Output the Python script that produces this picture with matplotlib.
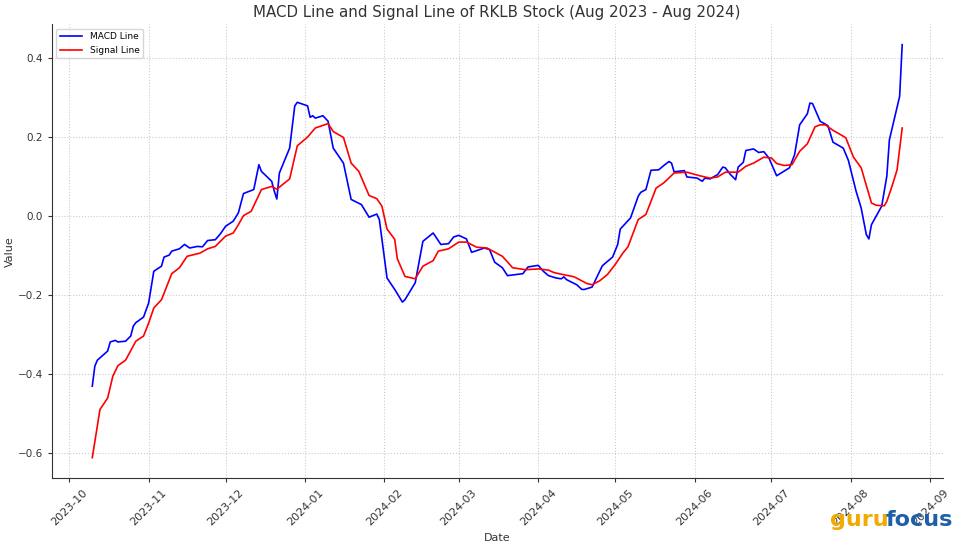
import matplotlib
matplotlib.use("Agg")
import matplotlib.pyplot as plt
import matplotlib.dates as mdates
import pandas as pd

# MACD line
macd_dates = [
    "2023-10-10", "2023-10-11", "2023-10-12", "2023-10-16", "2023-10-17", "2023-10-19",
    "2023-10-20", "2023-10-23", "2023-10-25", "2023-10-26", "2023-10-27", "2023-10-30",
    "2023-11-01", "2023-11-03", "2023-11-06", "2023-11-07", "2023-11-09", "2023-11-10",
    "2023-11-13", "2023-11-15", "2023-11-17", "2023-11-20", "2023-11-22", "2023-11-24",
    "2023-11-27", "2023-11-29", "2023-12-01", "2023-12-04", "2023-12-06", "2023-12-08",
    "2023-12-12", "2023-12-14", "2023-12-15", "2023-12-19", "2023-12-20", "2023-12-21",
    "2023-12-22", "2023-12-26", "2023-12-28", "2023-12-29", "2024-01-02", "2024-01-03",
    "2024-01-04", "2024-01-05", "2024-01-08", "2024-01-10", "2024-01-12", "2024-01-16",
    "2024-01-19", "2024-01-23", "2024-01-26", "2024-01-29", "2024-01-30", "2024-02-02",
    "2024-02-05", "2024-02-08", "2024-02-09", "2024-02-13", "2024-02-16", "2024-02-20",
    "2024-02-23", "2024-02-26", "2024-02-28", "2024-03-01", "2024-03-04", "2024-03-06",
    "2024-03-11", "2024-03-13", "2024-03-15", "2024-03-18", "2024-03-20", "2024-03-26",
    "2024-03-28", "2024-04-01", "2024-04-03", "2024-04-05", "2024-04-08", "2024-04-10",
    "2024-04-11", "2024-04-12", "2024-04-16", "2024-04-18", "2024-04-19", "2024-04-22",
    "2024-04-24", "2024-04-26", "2024-04-30", "2024-05-02", "2024-05-03", "2024-05-07",
    "2024-05-10", "2024-05-11", "2024-05-13", "2024-05-15", "2024-05-18", "2024-05-20",
    "2024-05-22", "2024-05-23", "2024-05-24", "2024-05-28", "2024-05-29", "2024-06-02",
    "2024-06-04", "2024-06-05", "2024-06-07", "2024-06-10", "2024-06-12", "2024-06-13",
    "2024-06-15", "2024-06-17", "2024-06-18", "2024-06-20", "2024-06-21", "2024-06-24",
    "2024-06-26", "2024-06-28", "2024-06-30", "2024-07-03", "2024-07-08", "2024-07-10",
    "2024-07-12", "2024-07-15", "2024-07-16", "2024-07-17", "2024-07-20", "2024-07-23",
    "2024-07-25", "2024-07-29", "2024-07-31", "2024-08-03", "2024-08-05", "2024-08-07",
    "2024-08-08", "2024-08-09", "2024-08-13", "2024-08-15", "2024-08-16", "2024-08-20",
    "2024-08-21",
]
macd_vals = [
    -0.432, -0.381, -0.366, -0.343, -0.320, -0.316,
    -0.320, -0.318, -0.305, -0.280, -0.271, -0.257,
    -0.221, -0.141, -0.128, -0.105, -0.100, -0.090,
    -0.084, -0.073, -0.082, -0.078, -0.079, -0.063,
    -0.061, -0.046, -0.027, -0.014, 0.007, 0.056,
    0.066, 0.129, 0.112, 0.087, 0.062, 0.042,
    0.108, 0.171, 0.278, 0.287, 0.278, 0.249,
    0.253, 0.247, 0.253, 0.239, 0.171, 0.133,
    0.041, 0.028, -0.004, 0.004, -0.010, -0.158,
    -0.187, -0.219, -0.213, -0.170, -0.065, -0.044,
    -0.073, -0.071, -0.054, -0.050, -0.059, -0.093,
    -0.082, -0.086, -0.118, -0.132, -0.152, -0.147,
    -0.130, -0.126, -0.141, -0.152, -0.158, -0.160,
    -0.155, -0.162, -0.175, -0.187, -0.187, -0.181,
    -0.154, -0.127, -0.105, -0.073, -0.034, -0.006,
    0.049, 0.059, 0.066, 0.115, 0.116, 0.127,
    0.137, 0.133, 0.111, 0.114, 0.098, 0.095,
    0.087, 0.095, 0.093, 0.104, 0.123, 0.121,
    0.104, 0.091, 0.123, 0.135, 0.165, 0.169,
    0.160, 0.162, 0.146, 0.101, 0.121, 0.154,
    0.230, 0.258, 0.285, 0.284, 0.239, 0.228,
    0.186, 0.171, 0.140, 0.062, 0.019, -0.048,
    -0.059, -0.023, 0.024, 0.100, 0.192, 0.302,
    0.433,
]

# signal line
signal_dates = [
    "2023-10-10", "2023-10-13", "2023-10-16", "2023-10-18", "2023-10-20", "2023-10-23",
    "2023-10-27", "2023-10-30", "2023-11-01", "2023-11-03", "2023-11-06", "2023-11-10",
    "2023-11-13", "2023-11-16", "2023-11-21", "2023-11-24", "2023-11-27", "2023-12-01",
    "2023-12-04", "2023-12-06", "2023-12-08", "2023-12-11", "2023-12-15", "2023-12-19",
    "2023-12-21", "2023-12-26", "2023-12-29", "2024-01-02", "2024-01-05", "2024-01-10",
    "2024-01-12", "2024-01-16", "2024-01-19", "2024-01-22", "2024-01-26", "2024-01-29",
    "2024-01-31", "2024-02-02", "2024-02-05", "2024-02-06", "2024-02-09", "2024-02-13",
    "2024-02-16", "2024-02-20", "2024-02-22", "2024-02-26", "2024-03-01", "2024-03-04",
    "2024-03-08", "2024-03-12", "2024-03-18", "2024-03-22", "2024-03-27", "2024-04-01",
    "2024-04-05", "2024-04-07", "2024-04-09", "2024-04-15", "2024-04-20", "2024-04-22",
    "2024-04-25", "2024-04-28", "2024-05-01", "2024-05-04", "2024-05-06", "2024-05-10",
    "2024-05-13", "2024-05-17", "2024-05-20", "2024-05-24", "2024-05-29", "2024-06-03",
    "2024-06-07", "2024-06-10", "2024-06-13", "2024-06-18", "2024-06-21", "2024-06-24",
    "2024-06-28", "2024-07-01", "2024-07-03", "2024-07-06", "2024-07-09", "2024-07-12",
    "2024-07-15", "2024-07-18", "2024-07-20", "2024-07-22", "2024-07-25", "2024-07-28",
    "2024-07-30", "2024-08-02", "2024-08-05", "2024-08-09", "2024-08-11", "2024-08-14",
    "2024-08-15", "2024-08-17", "2024-08-19", "2024-08-21",
]
signal_vals = [
    -0.613, -0.491, -0.462, -0.407, -0.380, -0.366,
    -0.318, -0.305, -0.272, -0.234, -0.213, -0.147,
    -0.132, -0.103, -0.095, -0.084, -0.078, -0.052,
    -0.044, -0.023, 0.000, 0.011, 0.066, 0.074,
    0.067, 0.093, 0.177, 0.199, 0.222, 0.233,
    0.213, 0.198, 0.133, 0.112, 0.051, 0.043,
    0.024, -0.034, -0.060, -0.109, -0.154, -0.160,
    -0.128, -0.114, -0.090, -0.084, -0.067, -0.067,
    -0.080, -0.082, -0.103, -0.132, -0.137, -0.135,
    -0.138, -0.144, -0.147, -0.155, -0.172, -0.175,
    -0.165, -0.149, -0.124, -0.095, -0.079, -0.010,
    0.003, 0.070, 0.083, 0.108, 0.110, 0.101,
    0.095, 0.098, 0.110, 0.110, 0.125, 0.133,
    0.148, 0.146, 0.132, 0.127, 0.129, 0.163,
    0.182, 0.225, 0.230, 0.230, 0.216, 0.205,
    0.197, 0.148, 0.121, 0.032, 0.026, 0.025,
    0.036, 0.074, 0.116, 0.222,
]

macd = pd.Series(macd_vals, index=pd.to_datetime(macd_dates))
signal = pd.Series(signal_vals, index=pd.to_datetime(signal_dates))

fig = plt.figure(figsize=(9.59, 5.46), dpi=100)
ax = fig.add_axes([0.054, 0.124, 0.929, 0.832])

ax.plot(macd.index, macd.values, color="blue", lw=1.2, label="MACD Line")
ax.plot(signal.index, signal.values, color="red", lw=1.2, label="Signal Line")

ax.set_title("MACD Line and Signal Line of RKLB Stock (Aug 2023 - Aug 2024)",
             fontsize=10.8, color="#333333", pad=5)
ax.set_xlabel("Date", fontsize=8, color="#333333")
ax.set_ylabel("Value", fontsize=8, color="#333333", labelpad=2)

ax.xaxis.set_major_locator(mdates.MonthLocator())
ax.xaxis.set_major_formatter(mdates.DateFormatter("%Y-%m"))
ax.set_yticks([-0.6, -0.4, -0.2, 0.0, 0.2, 0.4])
ax.tick_params(axis="both", labelsize=8, colors="#333333", length=3)
ax.tick_params(axis="y", labelsize=7.5)
for lbl in ax.get_xticklabels():
    lbl.set_rotation(45)

ax.grid(True, linestyle=":", color="#cccccc", linewidth=0.8)
ax.spines["top"].set_visible(False)
ax.spines["right"].set_visible(False)
ax.spines["left"].set_color("#333333")
ax.spines["bottom"].set_color("#333333")

ax.legend(loc="upper left", fontsize=6.5, frameon=True, handlelength=2.5)

# watermark
fig.text(0.866, 0.03, "guru", color="#f2a900", fontsize=16, fontweight="bold",
         family=["Liberation Sans Narrow", "DejaVu Sans"], ha="left", va="bottom")
fig.text(0.923, 0.03, "focus", color="#1d5fa8", fontsize=16, fontweight="bold",
         family=["Liberation Sans Narrow", "DejaVu Sans"], ha="left", va="bottom")

plt.savefig("out.png", dpi=100)
plt.close()
